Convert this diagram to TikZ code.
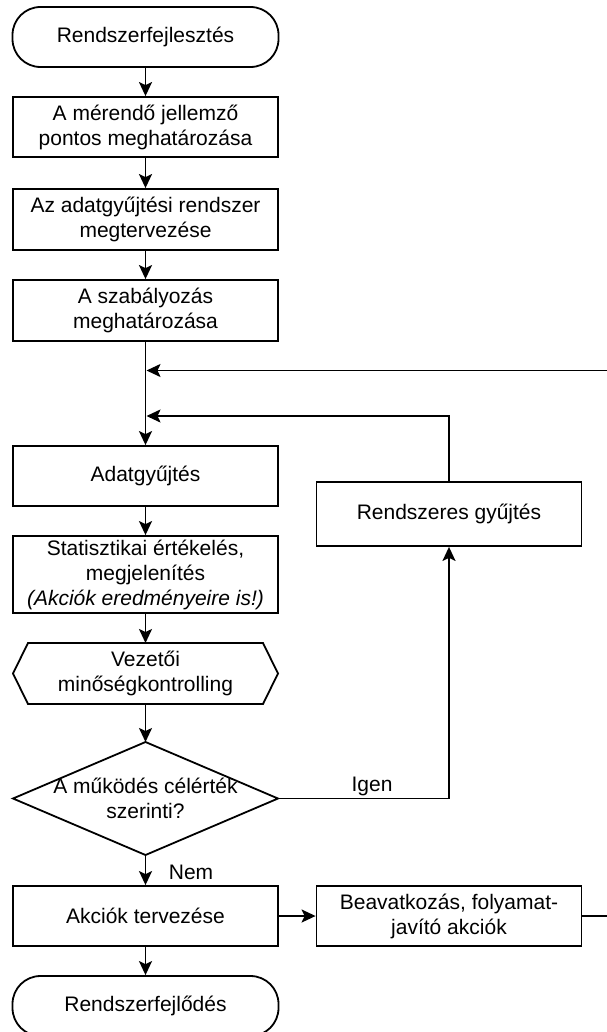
\documentclass[tikz,border=0pt]{standalone}
\usepackage{fontspec}
\setmainfont{Liberation Sans}
\usetikzlibrary{arrows.meta,calc}

\begin{document}
\begin{tikzpicture}[x=1pt,y=-1pt,
  line width=1.8pt,
  every node/.style={font=\fontsize{21}{25}\selectfont, align=center, inner sep=0pt},
  box/.style={draw, rectangle, minimum width=265pt, minimum height=60pt},
  term/.style={draw, rectangle, rounded corners=28pt, minimum width=266pt, minimum height=60pt},
  flow/.style={-{Stealth[length=14pt,width=13pt,inset=3pt]}},
  outline/.style={draw, line join=miter}
]
\useasboundingbox (0,0) rectangle (606,1032);

% main column
\node[term] (start) at (145.5,37) {Rendszerfejlesztés};
\node[box] (b1) at (145.5,127) {A mérendő jellemző\\pontos meghatározása};
\node[box, minimum height=61pt] (b2) at (145.5,219.5) {Az adatgyűjtési rendszer\\megtervezése};
\node[box, minimum height=61pt] (b3) at (145.5,310.5) {A szabályozás\\meghatározása};
\coordinate (m1) at (145.5,370.5);
\coordinate (m2) at (145.5,416);
\node[box] (adat) at (145.5,476) {Adatgyűjtés};
\node[box, minimum height=77pt] (stat) at (145.5,574.5) {Statisztikai értékelés,\\megjelenítés\\\textit{(Akciók eredményeire is!)}};

% display (hexagon)
\node (ctrl) at (145.5,673.5) {Vezetői\\minőségkontrolling};
\coordinate (hN) at (145.5,643);
\coordinate (hS) at (145.5,704);
\draw[outline] (13,673.5) -- (28,643) -- (263,643) -- (278,673.5) -- (263,704) -- (28,704) -- cycle;

% decision (diamond)
\node (q) at (145.5,798.5) {A működés célérték\\szerinti?};
\coordinate (qN) at (145.5,742);
\coordinate (qE) at (278,798.5);
\coordinate (qS) at (145.5,855);
\coordinate (qW) at (13,798.5);
\draw[outline] (qN) -- (qE) -- (qS) -- (qW) -- cycle;

\node[box] (act) at (145.5,916) {Akciók tervezése};
\node[term] (end) at (145.5,1006) {Rendszerfejlődés};

% right column
\node[box, minimum height=64pt] (coll) at (449,514) {Rendszeres gyűjtés};
\node[box] (interv) at (449,916) {Beavatkozás, folyamat-\\javító akciók};
\coordinate (edgeB) at (612,916);
\coordinate (edgeT) at (612,370.5);

% connectors
\draw[flow] (start.south) -- (b1.north);
\draw[flow] (b1.south) -- (b2.north);
\draw[flow] (b2.south) -- (b3.north);
\draw[flow] (b3.south) -- (adat.north);
\draw[flow] (adat.south) -- (stat.north);
\draw[flow] (stat.south) -- (hN);
\draw[flow] (hS) -- (qN);
\draw[flow] (qS) -- (act.north);
\draw[flow] (act.south) -- (end.north);
\draw[flow] (act.east) -- (interv.west);
\draw[flow, shorten >=1pt] (interv.east) -- (edgeB) -- (edgeT) -- (m1);
\draw[flow, shorten >=1pt] (coll.north) -- (coll.north |- m2) -- (m2);
\draw[flow] (qE) -- (qE -| coll.south) -- (coll.south);

% branch labels
\node[anchor=base] (yes) at (372,791) {Igen};
\node[anchor=base west] (no) at (168,879) {Nem};
\end{tikzpicture}
\end{document}
